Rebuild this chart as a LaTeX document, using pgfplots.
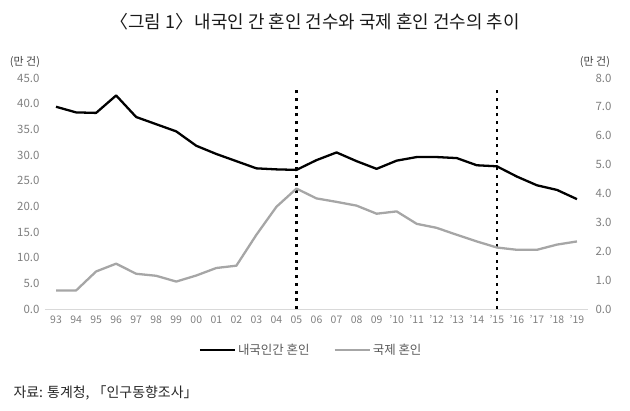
\documentclass[border=0pt]{standalone}
\usepackage{pgfplots}
\pgfplotsset{compat=1.18}
\usepackage{fontspec}
\setmainfont{Noto Sans CJK KR}
\definecolor{lgray}{HTML}{A6A6A6}
\definecolor{tgray}{HTML}{7F7F7F}
\definecolor{axgray}{HTML}{D9D9D9}
\definecolor{leggray}{HTML}{595959}
\begin{document}
\begin{tikzpicture}
\useasboundingbox (-45bp,-102bp) rectangle (585bp,309bp);
\pgfplotsset{
  common/.style={
    at={(0bp,0bp)}, anchor=south west, scale only axis,
    width=543bp, height=231bp,
    xmin=-0.55, xmax=26.55, ymin=0,
    major tick length=0pt,
    tick label style={font=\fontsize{11.5}{13}\selectfont, text=tgray},
    /pgf/number format/assume math mode=true,
    yticklabel={\pgfmathprintnumber[fixed,fixed zerofill,precision=1]{\tick}},
  }
}
\begin{axis}[common,
  ymax=45, ytick={0,5,...,45},
  axis x line*=bottom, axis y line*=left,
  y axis line style={draw=none},
  x axis line style={draw=axgray, line width=0.8pt},
  xtick={0,...,26},
  xticklabels={93,94,95,96,97,98,99,00,01,02,03,04,05,06,07,08,09,'10,'11,'12,'13,'14,'15,'16,'17,'18,'19},
  xticklabel style={yshift=-3bp, font=\fontsize{10.5}{12}\selectfont},
  yticklabel style={xshift=-2bp},
]
\addplot[black, line width=2.6pt, dash pattern=on 3bp off 4.7bp, line cap=butt] coordinates {(12,0) (12,42.7)};
\addplot[black, line width=2.6pt, dash pattern=on 3bp off 4.7bp, line cap=butt] coordinates {(22,0) (22,42.7)};
\addplot[black, line width=2.3pt, line join=round] coordinates {
(0,39.4) (1,38.3) (2,38.2) (3,41.6) (4,37.4) (5,36.0) (6,34.6) (7,31.8) (8,30.2) (9,28.8)
(10,27.4) (11,27.2) (12,27.1) (13,29.0) (14,30.5) (15,28.8) (16,27.3) (17,28.9) (18,29.6)
(19,29.6) (20,29.4) (21,28.0) (22,27.8) (23,25.8) (24,24.1) (25,23.2) (26,21.4)};
\end{axis}
\begin{axis}[common,
  ymax=8, ytick={0,1,...,8},
  axis y line*=right, axis x line=none,
  y axis line style={draw=none},
  yticklabel style={xshift=4bp},
  legend columns=2,
  legend style={at={(0.49,-0.177)}, anchor=center, draw=none, fill=none,
    font=\fontsize{12.5}{14}\selectfont, text=leggray,
    /tikz/every even column/.append style={column sep=22bp}},
  legend image code/.code={\draw[#1] (0bp,0bp) -- (35bp,0bp);},
]
\addlegendimage{black, line width=2.3pt}
\addlegendentry{내국인간 혼인}
\addplot[lgray, line width=2.3pt, line join=round] coordinates {
(0,0.64) (1,0.64) (2,1.30) (3,1.57) (4,1.22) (5,1.15) (6,0.95) (7,1.16) (8,1.42) (9,1.50)
(10,2.57) (11,3.54) (12,4.17) (13,3.83) (14,3.71) (15,3.58) (16,3.30) (17,3.38) (18,2.95)
(19,2.81) (20,2.57) (21,2.34) (22,2.13) (23,2.05) (24,2.05) (25,2.23) (26,2.34)};
\addlegendentry{국제 혼인}
\end{axis}
\node[font=\fontsize{18}{21}\selectfont, text=black!90] at (270bp,287bp) {〈그림 1〉\hspace{0.1em}내국인 간 혼인 건수와 국제 혼인 건수의 추이};
\node[font=\fontsize{11}{13}\selectfont, text=black!75] at (-20bp,247bp) {(만 건)};
\node[font=\fontsize{11}{13}\selectfont, text=black!75] at (550bp,247bp) {(만 건)};
\node[anchor=west, font=\fontsize{14}{16}\selectfont, text=black!85] at (-35bp,-84bp) {자료: 통계청, 「인구동향조사」};
\end{tikzpicture}
\end{document}
